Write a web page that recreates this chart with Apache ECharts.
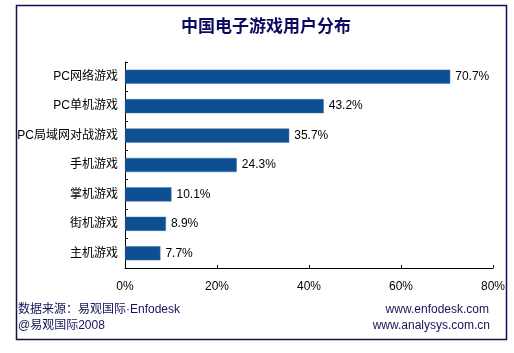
<!DOCTYPE html>
<html>
<head>
<meta charset="utf-8">
<script src="https://cdn.jsdelivr.net/npm/echarts@6/dist/echarts.min.js"></script>
<style>
  html, body { margin: 0; padding: 0; background: #fff; }
  #main { width: 514px; height: 353px; }
</style>
</head>
<body>
<div id="main"></div>
<script>
// 数据
const categories = ["PC网络游戏", "PC单机游戏", "PC局域网对战游戏", "手机游戏", "掌机游戏", "街机游戏", "主机游戏"];
const values = [70.7, 43.2, 35.7, 24.3, 10.1, 8.9, 7.7];
const xTicks = [0, 20, 40, 60, 80];

const font = "Arial, 'Liberation Sans', 'Noto Sans CJK SC', sans-serif";
const navy = "#14145a";

const chart = echarts.init(document.getElementById("main"), null, { renderer: "canvas" });

chart.setOption({
  animation: false,
  backgroundColor: "#fff",
  title: {
    text: "中国电子游戏用户分布",
    left: 261,
    textAlign: "center",
    top: 12,
    textStyle: { fontSize: 17, fontWeight: "bold", color: "#0a0a60", fontFamily: "'Noto Sans CJK SC', sans-serif" }
  },
  grid: { left: 125, right: 21, top: 62, bottom: 85 },
  xAxis: {
    type: "value",
    min: xTicks[0],
    max: xTicks[xTicks.length - 1],
    interval: 20,
    axisLine: { show: true, lineStyle: { color: "#000", width: 1 } },
    axisTick: { show: true, inside: true, length: 3, lineStyle: { color: "#000" } },
    splitLine: { show: false },
    axisLabel: { formatter: "{value}%", color: "#000", fontSize: 12, fontFamily: font, margin: 13 }
  },
  yAxis: {
    type: "category",
    inverse: true,
    data: categories,
    axisLine: { show: true, lineStyle: { color: "#000", width: 1 } },
    axisTick: { show: true, inside: true, length: 3, lineStyle: { color: "#000" } },
    axisLabel: { color: "#000", fontSize: 12, fontFamily: font, margin: 7 }
  },
  series: [{
    type: "bar",
    data: values,
    barWidth: "48%",
    itemStyle: { color: "#0d4f91", borderColor: "#3a75b0", borderWidth: 0.5 },
    label: {
      show: true,
      position: "right",
      distance: 5,
      formatter: p => p.value + "%",
      color: "#000",
      fontSize: 12,
      fontFamily: font
    }
  }],
  graphic: [
    {
      type: "rect",
      shape: { x: 16.5, y: 5.5, width: 490, height: 334 },
      style: { fill: null, stroke: "#10104a", lineWidth: 1.5 },
      silent: true
    },
    {
      type: "text", left: 18, top: 304,
      style: { text: "数据来源：易观国际·Enfodesk", fill: navy, font: "12px " + font }
    },
    {
      type: "text", left: 18, top: 320,
      style: { text: "@易观国际2008", fill: navy, font: "12px " + font }
    },
    {
      type: "text", right: 25, top: 304,
      style: { text: "www.enfodesk.com", fill: navy, font: "12px " + font }
    },
    {
      type: "text", right: 24, top: 320,
      style: { text: "www.analysys.com.cn", fill: navy, font: "12px " + font }
    }
  ]
});
</script>
</body>
</html>
